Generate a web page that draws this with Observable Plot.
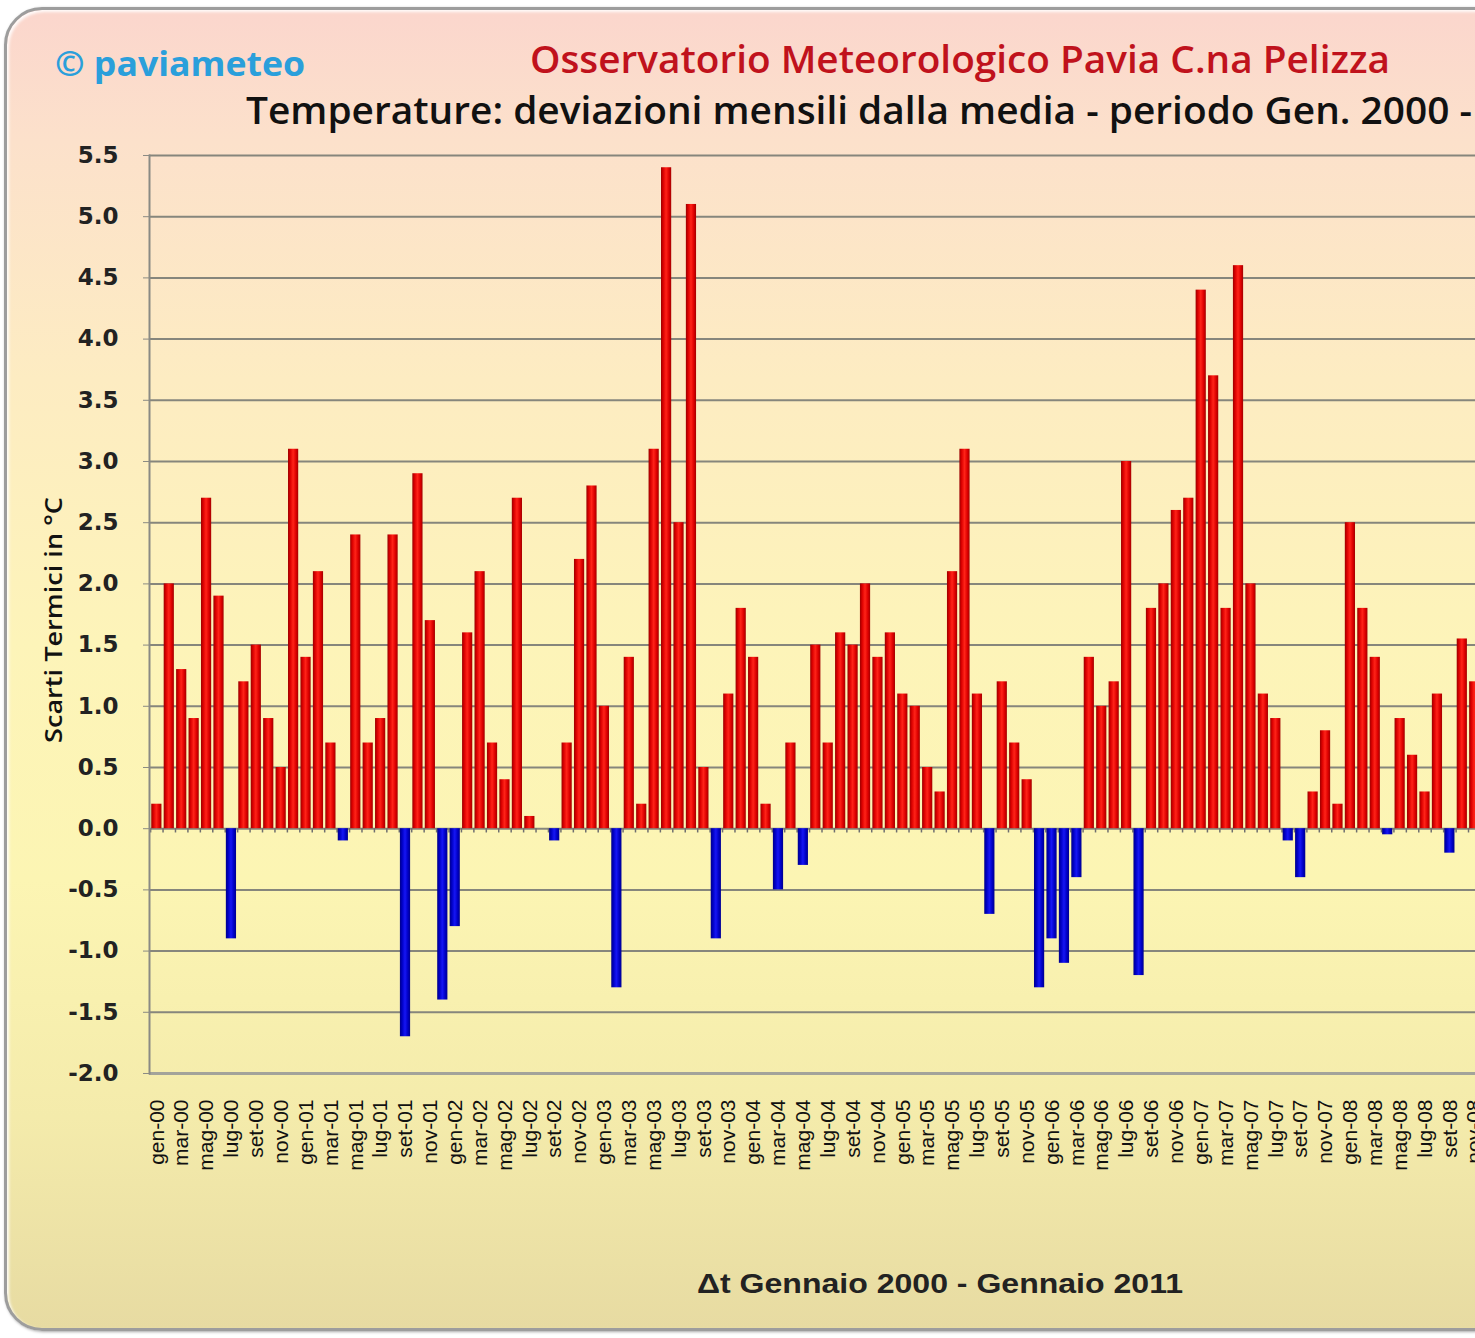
<!DOCTYPE html>
<html><head><meta charset="utf-8">
<script src="https://cdn.jsdelivr.net/npm/d3@7"></script>
<script src="https://cdn.jsdelivr.net/npm/@observablehq/plot@0.6"></script>
<style>
html,body{margin:0;padding:0;background:#fff;}
body{width:1475px;height:1338px;overflow:hidden;position:relative;}
#frame{position:absolute;left:4px;top:7px;width:1920px;height:1324px;box-sizing:border-box;border:3px solid #9d9d9d;border-radius:38px;
background:linear-gradient(180deg,#fbd6cd 0%,#fce1cb 10%,#fdecc2 28%,#fdf4b9 48%,#fcf5b3 66%,#f4ebab 84%,#e7dba2 100%);
box-shadow:inset 2px 2px 3px rgba(255,255,255,.9), 1px 1px 3px rgba(0,0,0,.35);}
#chart{position:absolute;left:0;top:0;}
#texts{position:absolute;left:0;top:0;pointer-events:none;}
</style></head>
<body>
<div id="frame"></div>
<div id="chart"></div>
<svg id="texts" width="1475" height="1338">
  <text x="55" y="76" textLength="250" lengthAdjust="spacingAndGlyphs" font-family="Open Sans" font-weight="700" font-size="34" fill="#2a9fdb">© paviameteo</text>
  <text x="530" y="73" textLength="860" lengthAdjust="spacingAndGlyphs" font-family="Open Sans" font-weight="600" font-size="38" fill="#c0121c">Osservatorio Meteorologico Pavia C.na Pelizza</text>
  <text x="246" y="124" textLength="1226" lengthAdjust="spacingAndGlyphs" font-family="Open Sans" font-weight="600" font-size="37" fill="#111">Temperature: deviazioni mensili dalla media - periodo Gen. 2000 -</text>
  <text x="697" y="1293" textLength="486" lengthAdjust="spacingAndGlyphs" font-family="Liberation Sans" font-weight="bold" font-size="27" fill="#222">Δt Gennaio 2000 - Gennaio 2011</text>
  <text transform="translate(62,620) rotate(-90)" text-anchor="middle" textLength="246" lengthAdjust="spacingAndGlyphs" font-family="Open Sans" font-weight="600" font-size="24" fill="#111">Scarti Termici in °C</text>
</svg>
<script>
const monthNames = ["gen","feb","mar","apr","mag","giu","lug","ago","set","ott","nov","dic"];
const yearCodes = ["00","01","02","03","04","05","06","07","08","09","10"];
const categories = [...yearCodes.flatMap(y => monthNames.map(m => `${m}-${y}`)), "gen-11"];
const values = [
  0.2, 2.0, 1.3, 0.9, 2.7, 1.9, -0.9, 1.2, 1.5, 0.9, 0.5, 3.1,
  1.4, 2.1, 0.7, -0.1, 2.4, 0.7, 0.9, 2.4, -1.7, 2.9, 1.7, -1.4,
  -0.8, 1.6, 2.1, 0.7, 0.4, 2.7, 0.1, 0.0, -0.1, 0.7, 2.2, 2.8,
  1.0, -1.3, 1.4, 0.2, 3.1, 5.4, 2.5, 5.1, 0.5, -0.9, 1.1, 1.8,
  1.4, 0.2, -0.5, 0.7, -0.3, 1.5, 0.7, 1.6, 1.5, 2.0, 1.4, 1.6,
  1.1, 1.0, 0.5, 0.3, 2.1, 3.1, 1.1, -0.7, 1.2, 0.7, 0.4, -1.3,
  -0.9, -1.1, -0.4, 1.4, 1.0, 1.2, 3.0, -1.2, 1.8, 2.0, 2.6, 2.7,
  4.4, 3.7, 1.8, 4.6, 2.0, 1.1, 0.9, -0.1, -0.4, 0.3, 0.8, 0.2,
  2.5, 1.8, 1.4, -0.05, 0.9, 0.6, 0.3, 1.1, -0.2, 1.55, 1.2
];
const yTicks = [-2.0,-1.5,-1.0,-0.5,0.0,0.5,1.0,1.5,2.0,2.5,3.0,3.5,4.0,4.5,5.0,5.5];
// labels every other month, for the months shown in the picture
const tickLabels = categories.slice(0, values.length).filter((c, i) => i % 2 === 0);

const data = values.map((v, i) => ({month: categories[i], v}));
const step = 12.45;
const left = 149;
const right = 20;
const plotW = categories.length * step;

const chart = Plot.plot({
  width: left + plotW + right,
  height: 1183,
  marginLeft: left, marginRight: right, marginTop: 155, marginBottom: 110,
  style: {background: "transparent", maxWidth: "none", overflow: "visible"},
  x: {type: "band", domain: categories, padding: 0.18, align: 0.5, label: null},
  y: {domain: [-2, 5.5], label: null},
  marks: [
    Plot.ruleY(yTicks, {stroke: "#86867c", strokeWidth: 2}),
    Plot.ruleX(categories, {x: d => d, dx: -step / 2, y1: 0, y2: -0.035, stroke: "#6f6f6f", strokeWidth: 1.5}),
    Plot.barY(data.filter(d => d.v >= 0), {x: "month", y: "v", fill: "url(#gR)"}),
    Plot.barY(data.filter(d => d.v < 0), {x: "month", y: "v", fill: "url(#gB)"}),
    Plot.ruleY([-2], {stroke: "#a3a39a", strokeWidth: 3}),
    Plot.frame({anchor: "left", stroke: "#8a8a84", strokeWidth: 2}),
    Plot.axisY(yTicks, {tickFormat: d => d.toFixed(1), tickSize: 6, tickPadding: 25, fontSize: 23, fontWeight: "bold",
      fontFamily: "DejaVu Sans", color: "#222", stroke: "#8a8a84", label: null}),
    Plot.axisX(tickLabels, {tickRotate: -90, tickSize: 0, tickPadding: 26, fontSize: 21,
      fontFamily: "Liberation Sans", color: "#111", label: null})
  ]
});

const defs = d3.select(chart).insert("defs", ":first-child");
function grad(id, stops) {
  const g = defs.append("linearGradient").attr("id", id).attr("x1", "0").attr("x2", "1").attr("y1", "0").attr("y2", "0");
  stops.forEach(([o, c]) => g.append("stop").attr("offset", o).attr("stop-color", c));
}
grad("gR", [[0, "#9a0000"], [0.22, "#dc0000"], [0.5, "#ff2318"], [0.78, "#dd0000"], [1, "#a30000"]]);
grad("gB", [[0, "#00008a"], [0.22, "#0000c4"], [0.5, "#1616f4"], [0.78, "#0000c4"], [1, "#000090"]]);

document.getElementById("chart").appendChild(chart);
</script>
</body></html>
